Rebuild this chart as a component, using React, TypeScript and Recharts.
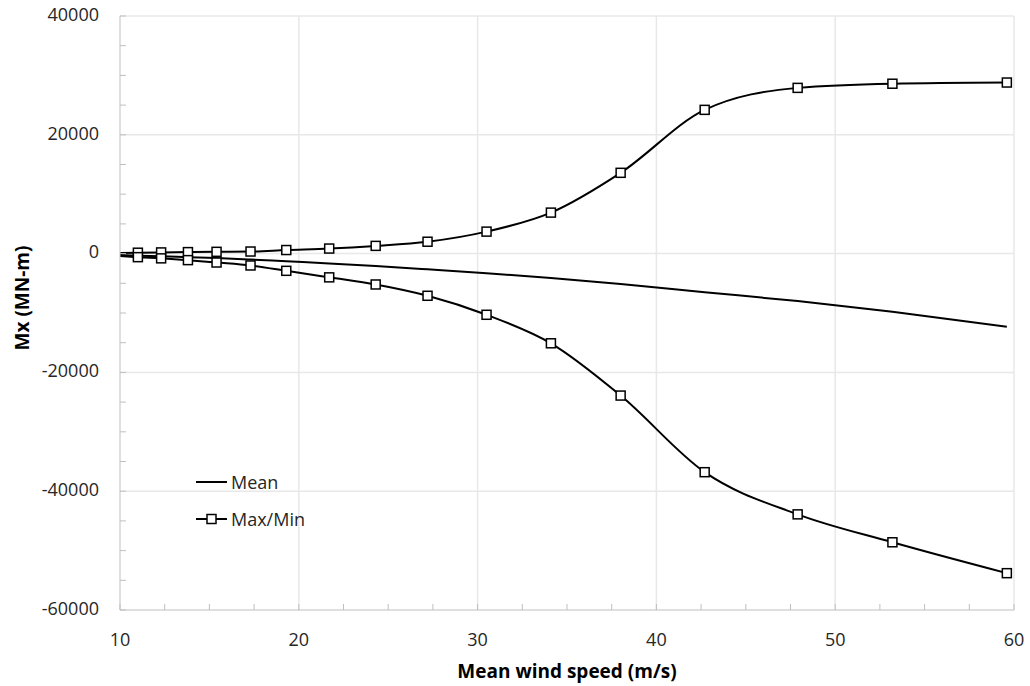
import React from 'react';
import { LineChart, Line, XAxis, YAxis, ReferenceLine } from 'recharts';

// Values
const windSpeed = [10, 11.0, 12.3, 13.8, 15.4, 17.3, 19.3, 21.7, 24.3, 27.2, 30.5, 34.1, 38.0, 42.7, 47.9, 53.2, 59.6];
const meanMx = [-250, -350, -450, -600, -750, -1000, -1300, -1650, -2100, -2650, -3300, -4100, -5100, -6500, -8000, -9800, -12300];
const maxMx = [100, 150, 200, 250, 300, 350, 600, 850, 1300, 2000, 3700, 6900, 13600, 24200, 27900, 28600, 28800];
const minMx = [-400, -600, -800, -1100, -1500, -2000, -2900, -4000, -5200, -7100, -10300, -15100, -23900, -36800, -43900, -48600, -53800];

const xTicks = [10, 12.5, 15, 17.5, 20, 22.5, 25, 27.5, 30, 32.5, 35, 37.5, 40, 42.5, 45, 47.5, 50, 52.5, 55, 57.5, 60];
const yTicks = [-60000, -55000, -50000, -45000, -40000, -35000, -30000, -25000, -20000, -15000, -10000, -5000, 0, 5000, 10000, 15000, 20000, 25000, 30000, 35000, 40000];
const xGrid = [20, 30, 40, 50, 60];
const yGrid = [-40000, -20000, 0, 20000, 40000];

const data = windSpeed.map((v, i) => ({ v, mean: meanMx[i], max: maxMx[i], min: minMx[i] }));

const FONT = "'Open Sans', 'Noto Sans', sans-serif";
const AXIS = '#bfbfbf';

const XTick = (props: any) => {
  const { x, y, payload } = props;
  const major = payload.value % 10 === 0;
  return (
    <g>
      <line x1={x} x2={x} y1={y} y2={y - 6} stroke={AXIS} />
      {major && (
        <text x={x} y={y + 31} textAnchor="middle" dominantBaseline="middle" fontSize={18} fill="#262626" fontFamily={FONT}>
          {payload.value}
        </text>
      )}
    </g>
  );
};

const YTick = (props: any) => {
  const { x, y, payload } = props;
  const major = payload.value % 20000 === 0;
  return (
    <g>
      <line x1={x} x2={x + 6} y1={y} y2={y} stroke={AXIS} />
      {major && (
        <text x={x - 21} y={y} textAnchor="end" dominantBaseline="middle" fontSize={18} fill="#262626" fontFamily={FONT}>
          {payload.value}
        </text>
      )}
    </g>
  );
};

const squareDot = (p: any) => {
  if (p.index === 0) return <g key={`d${p.index}`} />;
  return (
    <rect key={`d${p.index}`} x={p.cx - 4.5} y={p.cy - 4.5} width={9} height={9} fill="#fff" stroke="#000" strokeWidth={1.5} />
  );
};

const App: React.FC = () => {
  return (
    <div style={{ position: 'absolute', left: 0, top: 0, width: 1030, height: 686, background: '#fff', fontFamily: FONT }}>
      <LineChart width={1030} height={686} data={data} margin={{ top: 16, right: 16, bottom: 0, left: 0 }}>
        {xGrid.map((g) => (
          <ReferenceLine key={`vx${g}`} x={g} stroke="#e8e8e8" strokeWidth={1.5} />
        ))}
        {yGrid.map((g) => (
          <ReferenceLine key={`hy${g}`} y={g} stroke="#e8e8e8" strokeWidth={1.5} />
        ))}
        <XAxis
          type="number"
          dataKey="v"
          domain={[10, 60]}
          ticks={xTicks}
          interval={0}
          height={76}
          tickSize={0}
          tickMargin={0}
          tickLine={false}
          axisLine={{ stroke: AXIS }}
          tick={<XTick />}
          allowDataOverflow
        />
        <YAxis
          type="number"
          domain={[-60000, 40000]}
          ticks={yTicks}
          interval={0}
          width={120}
          tickSize={0}
          tickMargin={0}
          tickLine={false}
          axisLine={{ stroke: AXIS }}
          tick={<YTick />}
          allowDataOverflow
        />
        <Line type="monotone" dataKey="mean" stroke="#000" strokeWidth={2} dot={false} isAnimationActive={false} />
        <Line type="monotone" dataKey="max" stroke="#000" strokeWidth={2} dot={squareDot} isAnimationActive={false} />
        <Line type="monotone" dataKey="min" stroke="#000" strokeWidth={2} dot={squareDot} isAnimationActive={false} />
      </LineChart>

      <div
        style={{
          position: 'absolute', left: 22, top: 298, transform: 'translate(-50%, -50%) rotate(-90deg)',
          whiteSpace: 'nowrap', fontWeight: 700, fontSize: 19, color: '#000',
        }}
      >
        Mx (MN-m)
      </div>
      <div
        style={{
          position: 'absolute', left: 567, top: 671, transform: 'translate(-50%, -50%)',
          whiteSpace: 'nowrap', fontWeight: 700, fontSize: 19, color: '#000',
        }}
      >
        Mean wind speed (m/s)
      </div>

      <div style={{ position: 'absolute', left: 196, top: 470, fontSize: 18, color: '#262626' }}>
        <div style={{ display: 'flex', alignItems: 'center', height: 24 }}>
          <svg width={32} height={12} style={{ marginRight: 3 }}>
            <line x1={0} x2={31} y1={6} y2={6} stroke="#000" strokeWidth={2} />
          </svg>
          <span>Mean</span>
        </div>
        <div style={{ display: 'flex', alignItems: 'center', height: 24, marginTop: 13 }}>
          <svg width={32} height={12} style={{ marginRight: 3 }}>
            <line x1={0} x2={31} y1={6} y2={6} stroke="#000" strokeWidth={2} />
            <rect x={11} y={1.5} width={9} height={9} fill="#fff" stroke="#000" strokeWidth={1.5} />
          </svg>
          <span>Max/Min</span>
        </div>
      </div>
    </div>
  );
};

export default App;
